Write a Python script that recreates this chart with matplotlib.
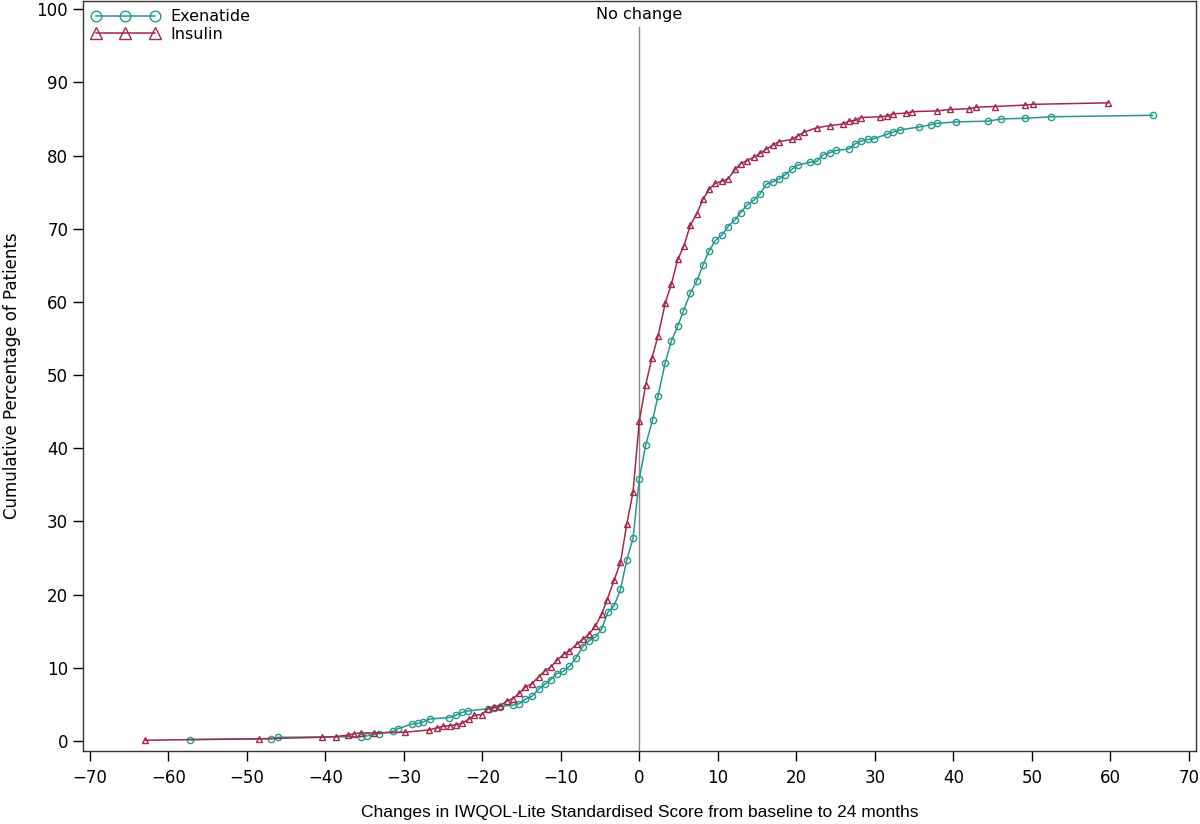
import numpy as np
import matplotlib
matplotlib.use('Agg')
import matplotlib.pyplot as plt

# ----- datos -----
exe_x = [-57.3, -46.9, -46.0, -35.5, -34.7, -33.1, -31.4, -30.7, -29.0, -28.2,
         -27.5, -26.7, -24.2, -23.4, -22.6, -21.8, -19.3, -18.5, -17.8, -16.1,
         -15.3, -14.5, -13.7, -12.8, -12.0, -11.3, -10.5, -9.7, -8.9, -8.1,
         -7.2, -6.4, -5.6, -4.8, -4.0, -3.2, -2.4, -1.6, -0.8, 0.0,
         0.8, 1.7, 2.4, 3.3, 4.1, 4.9, 5.6, 6.5, 7.3, 8.1,
         8.9, 9.7, 10.5, 11.3, 12.2, 12.9, 13.7, 14.6, 15.4, 16.2,
         17.0, 17.8, 18.6, 19.4, 20.2, 21.8, 22.6, 23.4, 24.3, 25.0,
         26.7, 27.5, 28.3, 29.1, 29.9, 31.5, 32.3, 33.2, 35.6, 37.1,
         37.9, 40.4, 44.4, 46.1, 49.2, 52.5, 65.4]
exe_y = [0.2, 0.3, 0.5, 0.6, 0.7, 1.0, 1.3, 1.7, 2.3, 2.4,
         2.6, 3.0, 3.2, 3.5, 3.9, 4.1, 4.4, 4.5, 4.7, 4.9,
         5.1, 5.7, 6.1, 7.1, 7.8, 8.4, 9.2, 9.5, 10.2, 11.3,
         12.9, 13.7, 14.2, 15.3, 17.6, 18.5, 20.7, 24.7, 27.7, 35.8,
         40.4, 43.9, 47.2, 51.7, 54.7, 56.7, 58.7, 61.2, 62.8, 65.0,
         67.0, 68.4, 69.1, 70.3, 71.2, 72.2, 73.2, 73.9, 74.8, 76.1,
         76.4, 76.8, 77.4, 78.1, 78.7, 79.1, 79.2, 80.1, 80.4, 80.7,
         80.9, 81.6, 82.0, 82.2, 82.3, 82.9, 83.2, 83.5, 83.9, 84.2,
         84.4, 84.6, 84.7, 85.0, 85.1, 85.3, 85.5]

ins_x = [-63.0, -48.4, -40.4, -38.7, -37.1, -36.3, -35.5, -33.8, -29.8, -26.8,
         -25.8, -25.0, -24.1, -23.4, -22.6, -21.7, -21.0, -20.1, -19.3, -18.5,
         -17.8, -16.8, -16.1, -15.3, -14.5, -13.7, -12.8, -12.0, -11.3, -10.5,
         -9.6, -8.9, -8.0, -7.2, -6.4, -5.6, -4.8, -4.1, -3.2, -2.4,
         -1.6, -0.8, 0.0, 0.8, 1.6, 2.4, 3.3, 4.1, 4.9, 5.7,
         6.5, 7.3, 8.1, 8.9, 9.7, 10.5, 11.3, 12.2, 12.9, 13.7,
         14.6, 15.4, 16.2, 17.0, 17.8, 19.4, 20.2, 21.0, 22.6, 24.3,
         25.9, 26.7, 27.5, 28.2, 30.7, 31.6, 32.3, 34.0, 34.8, 37.9,
         39.6, 42.0, 42.9, 45.3, 49.2, 50.1, 59.7]
ins_y = [0.1, 0.3, 0.5, 0.6, 0.8, 1.0, 1.1, 1.1, 1.2, 1.5,
         1.8, 2.0, 2.1, 2.2, 2.4, 3.0, 3.5, 3.6, 4.4, 4.6,
         4.8, 5.5, 5.8, 6.5, 7.4, 7.8, 8.8, 9.6, 10.1, 11.0,
         11.9, 12.3, 13.2, 13.9, 14.6, 15.7, 17.3, 19.3, 22.0, 24.4,
         29.6, 34.0, 43.7, 48.6, 52.3, 55.4, 59.8, 62.5, 65.8, 67.7,
         70.5, 72.0, 74.0, 75.4, 76.2, 76.5, 76.8, 78.1, 78.9, 79.3,
         79.8, 80.3, 80.9, 81.4, 81.9, 82.2, 82.7, 83.2, 83.8, 84.1,
         84.3, 84.7, 84.8, 85.2, 85.3, 85.4, 85.7, 85.8, 86.0, 86.1,
         86.3, 86.4, 86.6, 86.7, 86.9, 87.0, 87.2]

x_ticks = np.arange(-70, 71, 10)
y_ticks = np.arange(0, 101, 10)

col_exe = '#23998f'
col_ins = '#a3284b'

fig = plt.figure(figsize=(12, 8.24), dpi=100)
ax = fig.add_axes([0.069, 0.0886, 0.9275, 0.91])

ax.plot(exe_x, exe_y, color=col_exe, lw=1.1, marker='o', ms=4.5,
        mfc='none', mec=col_exe, mew=1.0, label='Exenatide')
ax.plot(ins_x, ins_y, color=col_ins, lw=1.1, marker='^', ms=5,
        mfc='none', mec=col_ins, mew=1.0, label='Insulin')

# linea de "sin cambio"
ax.plot([0, 0], [-1.4, 97.5], color='#888888', lw=1.0, zorder=0)
ax.text(0, 99.3, 'No change', ha='center', va='center', fontsize=11.5)

ax.set_xlim(-70.9, 70.9)
ax.set_ylim(-1.37, 101.1)
ax.set_xticks(x_ticks)
ax.set_xticklabels([str(v).replace('-', '\u2212') for v in x_ticks])
ax.set_yticks(y_ticks)
ax.tick_params(direction='out', length=7, width=1, labelsize=12)
ax.tick_params(axis='x', pad=6)
for s in ax.spines.values():
    s.set_linewidth(1.0)
    s.set_color('#333333')

ax.set_xlabel('Changes in IWQOL-Lite Standardised Score from baseline to 24 months',
              fontsize=12.5, family='Liberation Sans', labelpad=13)
ax.set_ylabel('Cumulative Percentage of Patients', fontsize=12, labelpad=11)

ax.legend(loc='upper left', frameon=False, numpoints=3, fontsize=11.5,
          handlelength=4.3, borderaxespad=0.25, labelspacing=0.15,
          handletextpad=0.7, borderpad=0.25, markerscale=1.7)

fig.savefig('out.png', dpi=100)
